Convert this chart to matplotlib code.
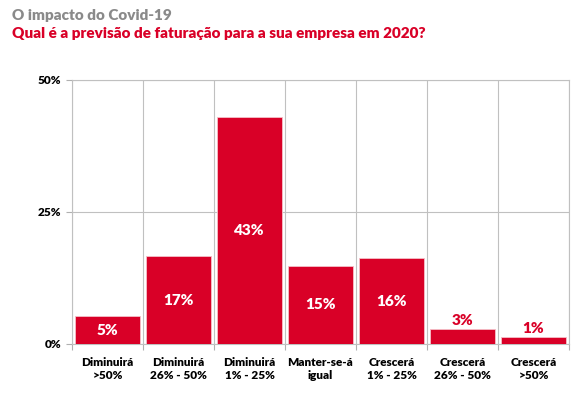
import matplotlib
matplotlib.use("Agg")
import matplotlib.pyplot as plt
import numpy as np

categories = ["Diminuirá\n>50%", "Diminuirá\n26% - 50%", "Diminuirá\n1% - 25%", "Manter-se-á\nigual",
              "Crescerá\n1% - 25%", "Crescerá\n26% - 50%", "Crescerá\n>50%"]
values = [5.2, 16.6, 43.0, 14.8, 16.2, 2.9, 1.4]
labels = ["5%", "17%", "43%", "15%", "16%", "3%", "1%"]
yticks = [0, 25, 50]
ytick_labels = ["0%", "25%", "50%"]

RED = "#D90027"
plt.rcParams['font.family'] = ['Lato', 'DejaVu Sans']
W = "heavy"

fig = plt.figure(figsize=(5.79, 3.93), dpi=100)
ax = fig.add_axes([72/579, 1-344/393, (569-72)/579, (344-79.5)/393])

x = np.arange(len(categories))
bars = ax.bar(x, values, width=0.92, color=RED, edgecolor="#f5c0c8", linewidth=0.6, zorder=3)

for xi, v, lab in zip(x, values, labels):
    if v > 4:
        ax.text(xi, v/2, lab, ha="center", va="center", color="white",
                fontsize=11, fontweight=W, zorder=4)
    else:
        ax.text(xi, v + 0.3, lab, ha="center", va="bottom", color=RED,
                fontsize=11, fontweight=W, zorder=4)

ax.set_xlim(-0.5, len(categories) - 0.5)
ax.set_ylim(0, 50)
ax.set_yticks(yticks)
ax.set_yticklabels(ytick_labels, fontsize=8.5, fontweight=W)
ax.set_xticks(np.arange(-0.5, len(categories) + 0.5, 1))
ax.set_xticklabels([])
ax.set_xticks(x, minor=True)
ax.set_xticklabels(categories, minor=True, fontsize=8.5, fontweight=W, linespacing=1.3)
ax.tick_params(axis="x", which="minor", length=0, pad=9)
ax.tick_params(axis="x", which="major", length=4, color="#b0b0b0")
ax.tick_params(axis="y", length=4, color="#b0b0b0", pad=4)
ax.grid(True, which="major", color="#c0c0c0", linewidth=0.8, zorder=0)
for s in ax.spines.values():
    s.set_color("#c0c0c0")
    s.set_linewidth(0.8)

fig.text(12/579, 1-15/393, "O impacto do Covid-19", color="#8a8a8a", fontsize=11, fontweight=W, va="center")
fig.text(12/579, 1-34/393, "Qual é a previsão de faturação para a sua empresa em 2020?", color=RED,
         fontsize=11, fontweight=W, va="center")

fig.savefig("out.png", dpi=100)
